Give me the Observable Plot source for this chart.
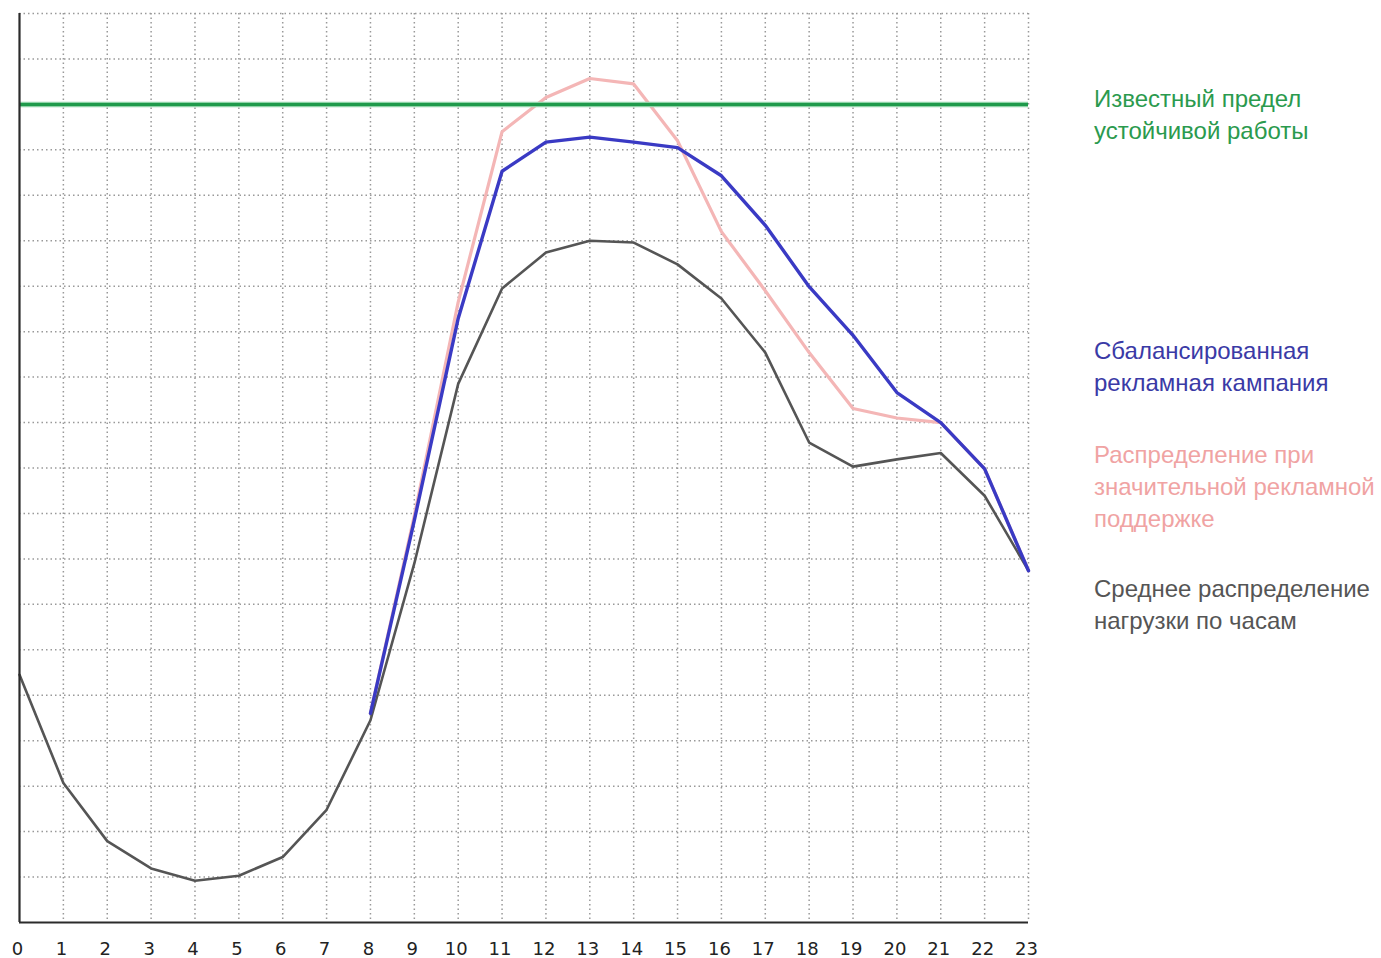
<!DOCTYPE html>
<html>
<head>
<meta charset="utf-8">
<script src="https://cdn.jsdelivr.net/npm/d3@7"></script>
<script src="https://cdn.jsdelivr.net/npm/@observablehq/plot@0.6"></script>
<style>
  html, body { margin: 0; padding: 0; background: #fff; }
  #wrap { position: relative; width: 1381px; height: 958px; }
  #legend { position: absolute; left: 1094px; top: 0; font-family: "Liberation Sans", Arial, sans-serif; font-size: 24px; line-height: 32px; }
  #legend div { position: absolute; left: 0; white-space: nowrap; }
</style>
</head>
<body>
<div id="wrap"><div id="legend"></div></div>
<script>
// Hours of the day (x axis)
const hours = [0,1,2,3,4,5,6,7,8,9,10,11,12,13,14,15,16,17,18,19,20,21,22,23];
// Horizontal grid levels
const levels = [0,1,2,3,4,5,6,7,8,9,10,11,12,13,14,15,16,17,18,19,20];
// Known limit of stable operation
const stableLimit = 18;
// Average load distribution by hour (gray)
const avgLoad = [5.45, 3.07, 1.79, 1.19, 0.92, 1.03, 1.44, 2.48, 4.45, 7.9, 11.85, 13.95, 14.74, 15.0, 14.96, 14.48, 13.73, 12.54, 10.56, 10.03, 10.19, 10.33, 9.39, 7.74];
// Balanced ad campaign (blue), hours 8..23
const balancedHours = [8,9,10,11,12,13,14,15,16,17,18,19,20,21,22,23];
const balanced = [4.6, 8.85, 13.29, 16.53, 17.17, 17.28, 17.17, 17.05, 16.43, 15.34, 13.99, 12.92, 11.66, 11.0, 9.98, 7.74];
// Heavy ad support (pink), hours 8..23
const heavyHours = [8,9,10,11,12,13,14,15,16,17,18,19,20,21,22,23];
const heavy = [4.6, 8.95, 13.65, 17.4, 18.15, 18.57, 18.45, 17.2, 15.2, 13.9, 12.54, 11.31, 11.1, 11.0, 9.98, 7.74];

const legendItems = [
  {lines: ["Известный предел", "устойчивой работы"], color: "#2b9a4e", top: 83},
  {lines: ["Сбалансированная", "рекламная кампания"], color: "#3a3aa6", top: 335},
  {lines: ["Распределение при", "значительной рекламной", "поддержке"], color: "#f0a3a3", top: 439},
  {lines: ["Среднее распределение", "нагрузки по часам"], color: "#555555", top: 573}
];

const avgData = hours.map((h, i) => ({h, v: avgLoad[i]}));
const balData = balancedHours.map((h, i) => ({h, v: balanced[i]}));
const heavyData = heavyHours.map((h, i) => ({h, v: heavy[i]}));

const chart = Plot.plot({
  width: 1381,
  height: 958,
  marginLeft: 19,
  marginRight: 353,
  marginTop: 13,
  marginBottom: 36,
  x: {domain: [0, 23], axis: null, label: null},
  y: {domain: [0, 20], axis: null, label: null},
  style: {background: "transparent"},
  marks: [
    Plot.ruleY(levels.slice(1), {stroke: "#999", strokeWidth: 1.5, strokeDasharray: "1.5,3"}),
    Plot.ruleX(hours.slice(1), {stroke: "#999", strokeWidth: 1.5, strokeDasharray: "1.5,3"}),
    Plot.lineY(heavyData, {x: "h", y: "v", stroke: "#f4b6b6", strokeWidth: 3.2}),
    Plot.ruleY([stableLimit], {stroke: "#8fd3a8", strokeWidth: 5.5}),
    Plot.ruleY([stableLimit], {stroke: "#1f9a4b", strokeWidth: 3}),
    Plot.lineY(avgData, {x: "h", y: "v", stroke: "#555555", strokeWidth: 2.6}),
    Plot.lineY(balData, {x: "h", y: "v", stroke: "#3a3ac4", strokeWidth: 3.4}),
    Plot.ruleX([0], {stroke: "#2b2b2b", strokeWidth: 2.2}),
    Plot.ruleY([0], {stroke: "#2b2b2b", strokeWidth: 2.2}),
    Plot.axisX({ticks: hours, label: null, tickSize: 0, tickPadding: 20, fontSize: 18, fontFamily: "DejaVu Sans", fill: "#222", dx: -2, tickFormat: d => String(d)})
  ]
});

const wrap = document.getElementById("wrap");
wrap.insertBefore(chart, wrap.firstChild);
chart.style.position = "absolute";
chart.style.left = "0";
chart.style.top = "0";

const legend = document.getElementById("legend");
for (const item of legendItems) {
  item.lines.forEach((t, i) => {
    const d = document.createElement("div");
    d.textContent = t;
    d.style.color = item.color;
    d.style.top = (item.top + i * 32) + "px";
    legend.appendChild(d);
  });
}
</script>
</body>
</html>
